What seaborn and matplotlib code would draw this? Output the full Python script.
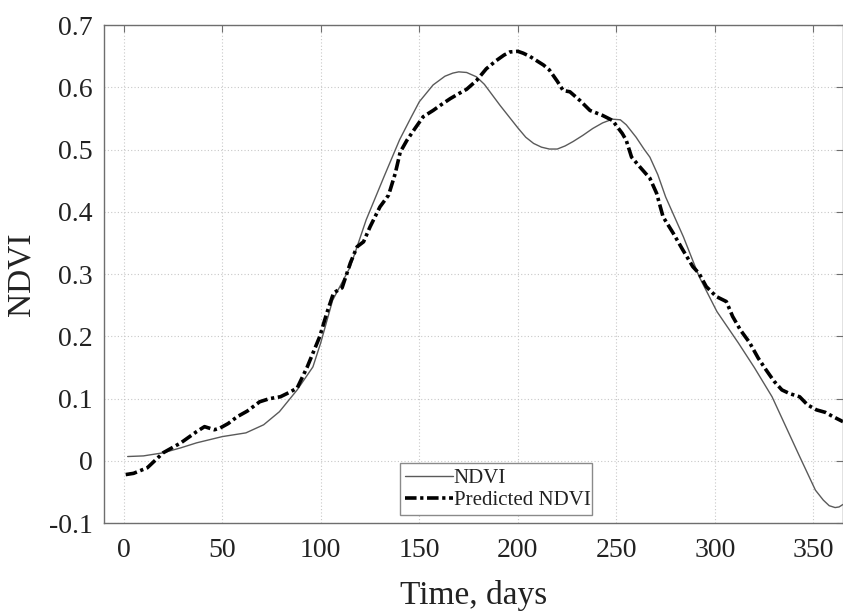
import numpy as np
import pandas as pd
import matplotlib
matplotlib.use("Agg")
import matplotlib.pyplot as plt
import seaborn as sns

# ---- data ----
ndvi_days = [2, 10, 20, 29, 37, 50, 62, 71, 79, 88, 96, 100, 106, 115, 123, 132,
             140, 146, 150, 157, 163, 167, 170, 174, 179, 183, 187, 191, 196, 200,
             204, 208, 212, 216, 220, 224, 228, 233, 238, 243, 248, 252, 255, 260,
             264, 267, 271, 275, 284, 292, 301, 312, 320, 329, 336, 343, 351, 355,
             358, 361, 363, 365]
ndvi_vals = [0.007, 0.008, 0.013, 0.021, 0.029, 0.039, 0.045, 0.058, 0.079, 0.114,
             0.151, 0.19, 0.258, 0.312, 0.387, 0.456, 0.516, 0.553, 0.577, 0.604,
             0.618, 0.623, 0.625, 0.624, 0.617, 0.605, 0.588, 0.571, 0.551, 0.535,
             0.52, 0.51, 0.504, 0.501, 0.501, 0.506, 0.513, 0.523, 0.534, 0.543,
             0.549, 0.548, 0.540, 0.52, 0.501, 0.488, 0.460, 0.424, 0.36, 0.296,
             0.240, 0.189, 0.15, 0.103, 0.055, 0.007, -0.047, -0.063, -0.072,
             -0.075, -0.074, -0.070]

pred_days = [1, 5, 12, 20, 29, 37, 41, 46, 49, 53, 57.6, 62.7, 69, 74, 79.5, 84, 88,
             93, 99.5, 103, 106.5, 110.8, 115, 118.4, 121.7, 125, 130, 134.4, 137.8,
             140.3, 143.7, 148, 152, 157, 161, 165.7, 170, 174, 179, 184, 189, 193,
             196, 200, 202.7, 206, 209.5, 213, 216, 220, 223, 226.4, 231.5, 236.6,
             243, 248, 253, 255, 257.7, 262, 267, 270.4, 273.7, 278.8, 283.7, 288.8,
             292, 295.6, 300.7, 305.8, 309, 313, 317.6, 322, 326, 330, 334, 338, 343,
             347, 351.5, 356, 360, 365]
pred_vals = [-0.022, -0.02, -0.011, 0.013, 0.029, 0.047, 0.055, 0.05, 0.053, 0.06,
             0.071, 0.08, 0.095, 0.1, 0.103, 0.11, 0.117, 0.15, 0.2, 0.237, 0.27,
             0.278, 0.318, 0.344, 0.352, 0.376, 0.408, 0.427, 0.462, 0.496, 0.515,
             0.535, 0.553, 0.563, 0.572, 0.582, 0.59, 0.597, 0.611, 0.63, 0.643,
             0.652, 0.657, 0.658, 0.655, 0.65, 0.643, 0.636, 0.628, 0.61, 0.595,
             0.593, 0.579, 0.563, 0.555, 0.547, 0.526, 0.515, 0.488, 0.472, 0.454,
             0.43, 0.392, 0.366, 0.339, 0.312, 0.301, 0.28, 0.264, 0.256, 0.232,
             0.21, 0.19, 0.165, 0.146, 0.128, 0.114, 0.108, 0.103, 0.09, 0.082,
             0.078, 0.071, 0.063]

x_ticks = [0, 50, 100, 150, 200, 250, 300, 350]
y_ticks = [-0.1, 0, 0.1, 0.2, 0.3, 0.4, 0.5, 0.6, 0.7]
y_tick_labels = ["-0.1", "0", "0.1", "0.2", "0.3", "0.4", "0.5", "0.6", "0.7"]

df_ndvi = pd.DataFrame({"day": ndvi_days, "val": ndvi_vals})
df_pred = pd.DataFrame({"day": pred_days, "val": pred_vals})

sns.set_theme(style="whitegrid")
plt.rcParams["font.family"] = ["Liberation Serif", "DejaVu Serif"]

fig = plt.figure(figsize=(8.43, 6.14), dpi=100)
ax = fig.add_axes([0.1234, 0.148, 0.8766, 0.811])

sns.lineplot(data=df_ndvi, x="day", y="val", ax=ax, color="#5a5a5a", linewidth=1.0,
             label="NDVI", sort=False)
sns.lineplot(data=df_pred, x="day", y="val", ax=ax, color="black", linewidth=2.6,
             linestyle=(0, (3.2, 1.0, 0.9, 1.0)), label="Predicted NDVI", sort=False)

ax.set_xlim(-10, 365)
ax.set_ylim(-0.1, 0.7)
ax.set_xticks(x_ticks)
ax.set_yticks(y_ticks)
ax.set_yticklabels(y_tick_labels)
ax.set_xlabel("Time, days", fontsize=24, color="#222222", labelpad=12)
ax.set_ylabel("NDVI", fontsize=24, color="#222222", labelpad=9)

ax.set_facecolor("white")
ax.grid(True, color="#c8c8c8", linestyle=(0, (1, 2)), linewidth=0.8)
for s in ax.spines.values():
    s.set_visible(True)
    s.set_color("#6e6e6e")
    s.set_linewidth(1.0)

ax.tick_params(axis="both", which="major", direction="in", length=5, width=0.8,
               color="#6e6e6e", labelsize=20, labelcolor="#222222",
               top=True, right=True)
ax.tick_params(axis="x", pad=11)
ax.tick_params(axis="y", pad=8)

leg = ax.legend(loc="lower left", bbox_to_anchor=(0.40, 0.016, 0.26, 0.106),
                mode="expand", fontsize=15, frameon=True, fancybox=False,
                framealpha=1, edgecolor="#8a8a8a", handlelength=2.3,
                handletextpad=0.05, borderpad=0.25, labelspacing=0.1,
                borderaxespad=0)
leg.get_frame().set_linewidth(1.0)
for t in leg.get_texts():
    t.set_color("#222222")

fig.savefig("out.png", dpi=100, facecolor="white")
